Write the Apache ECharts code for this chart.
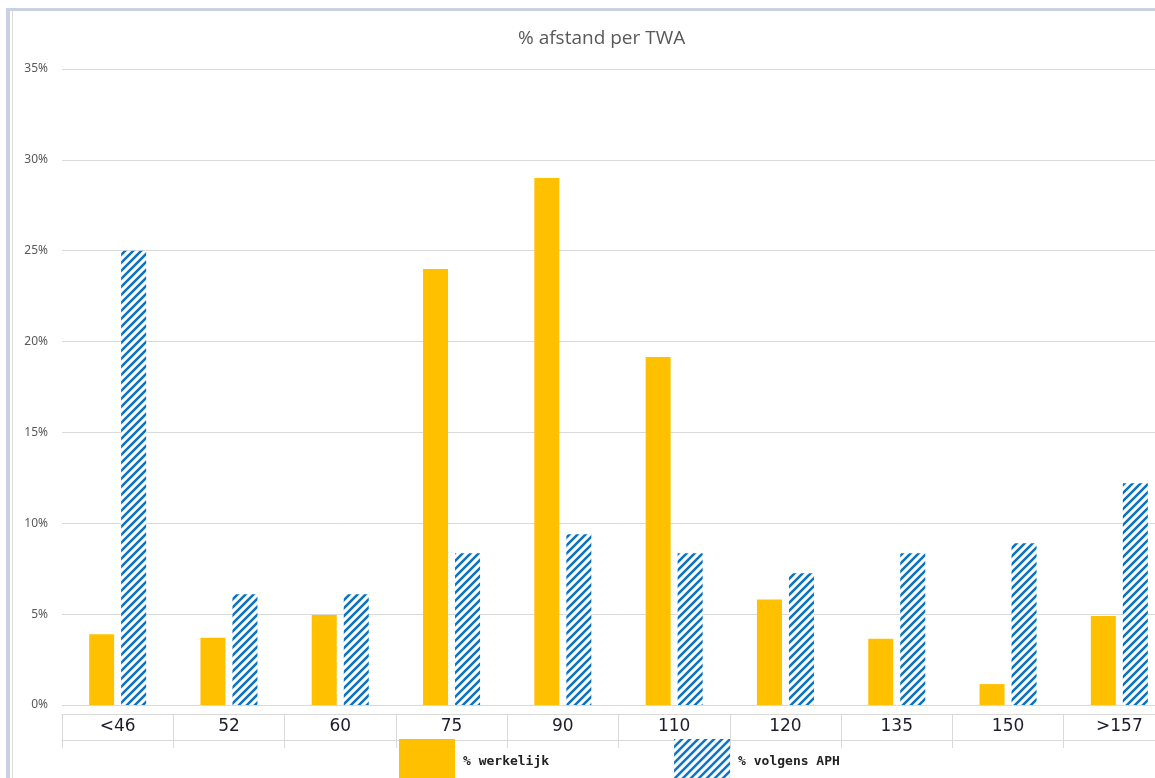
<!DOCTYPE html>
<html>
<head>
<meta charset="utf-8">
<script src="https://cdn.jsdelivr.net/npm/echarts@6/dist/echarts.min.js"></script>
<style>
  html, body { margin: 0; padding: 0; background: #ffffff; overflow: hidden; }
  /* the panel is wider than the window; its right edge is clipped */
  #chart { width: 1175px; height: 778px; }
</style>
</head>
<body>
<div id="chart"></div>
<script>
// TWA buckets (true wind angle)
const categories = ['<46', '52', '60', '75', '90', '110', '120', '135', '150', '>157'];
// share of distance sailed per TWA, in percent
const werkelijk = [3.9, 3.7, 4.95, 24.0, 29.0, 19.15, 5.8, 3.65, 1.15, 4.9];
// share of distance according to APH, in percent
const volgensAPH = [25.0, 6.1, 6.1, 8.35, 9.4, 8.35, 7.25, 8.35, 8.9, 12.2];
const seriesNames = ['% werkelijk', '% volgens APH'];
const yTicks = { min: 0, max: 35, interval: 5 };

// diagonal blue hatch used for the APH bars
function hatchPattern() {
  const c = document.createElement('canvas');
  c.width = 8; c.height = 8;
  const g = c.getContext('2d');
  g.fillStyle = '#ffffff';
  g.fillRect(0, 0, 8, 8);
  g.strokeStyle = '#0a72c4';
  g.lineWidth = 2.5;
  g.beginPath();
  g.moveTo(-1, 9); g.lineTo(9, -1);
  g.moveTo(-3, 3); g.lineTo(3, -3);
  g.moveTo(5, 11); g.lineTo(11, 5);
  g.stroke();
  return c;
}

const chart = echarts.init(document.getElementById('chart'), null, { renderer: 'canvas' });

const tableLine = { show: true, lineStyle: { color: '#d9d9d9', width: 1 } };

chart.setOption({
  backgroundColor: '#ffffff',
  animation: false,
  title: {
    text: '% afstand per TWA',
    left: 513,
    top: 24,
    textStyle: { fontFamily: 'Open Sans', fontSize: 19, fontWeight: 'normal', color: '#595959' }
  },
  legend: {
    left: 394,
    top: 734,
    itemWidth: 56,
    itemHeight: 46,
    itemGap: 125,
    icon: 'rect',
    data: seriesNames,
    textStyle: { fontFamily: 'DejaVu Sans Mono', fontWeight: 'bold', fontSize: 13, color: '#222222', padding: [0, 0, 0, 3] }
  },
  grid: { left: 62, right: 0, top: 69, height: 636, containLabel: false },
  xAxis: [
    {
      type: 'category',
      data: categories,
      axisLine: { show: false },
      axisTick: { show: false },
      axisLabel: { show: false }
    },
    {
      // data table row with the TWA labels
      type: 'category',
      data: categories,
      position: 'bottom',
      offset: 9,
      axisLine: tableLine,
      axisTick: { show: true, length: 34, interval: 0, lineStyle: { color: '#d9d9d9' } },
      axisLabel: { margin: 4, interval: 0, fontFamily: 'DejaVu Sans', fontSize: 17, color: '#1c1c2c' }
    },
    {
      type: 'category',
      data: categories,
      position: 'bottom',
      offset: 35,
      axisLine: tableLine,
      axisTick: { show: false },
      axisLabel: { show: false }
    }
  ],
  yAxis: {
    type: 'value',
    min: yTicks.min,
    max: yTicks.max,
    interval: yTicks.interval,
    axisLine: { show: false },
    axisTick: { show: false },
    splitLine: { show: true, lineStyle: { color: '#d9d9d9', width: 1 } },
    axisLabel: {
      margin: 14,
      formatter: '{value}%',
      fontFamily: 'Noto Sans',
      fontSize: 12,
      color: '#595959'
    }
  },
  series: [
    {
      name: seriesNames[0],
      type: 'bar',
      data: werkelijk,
      barWidth: 25,
      barGap: '28%',
      itemStyle: { color: '#FFC000' }
    },
    {
      name: seriesNames[1],
      type: 'bar',
      data: volgensAPH,
      barWidth: 25,
      itemStyle: { color: { image: hatchPattern(), repeat: 'repeat' } }
    }
  ],
  graphic: [
    // frame of the chart panel
    { type: 'rect', shape: { x: 6, y: 8, width: 1169, height: 3 }, style: { fill: '#c7d1e1' }, silent: true },
    { type: 'rect', shape: { x: 6, y: 8, width: 4, height: 770 }, style: { fill: '#c7d1e1' }, silent: true },
    { type: 'rect', shape: { x: 12, y: 11, width: 1, height: 767 }, style: { fill: '#dcdcdc' }, silent: true }
  ]
});
</script>
</body>
</html>
